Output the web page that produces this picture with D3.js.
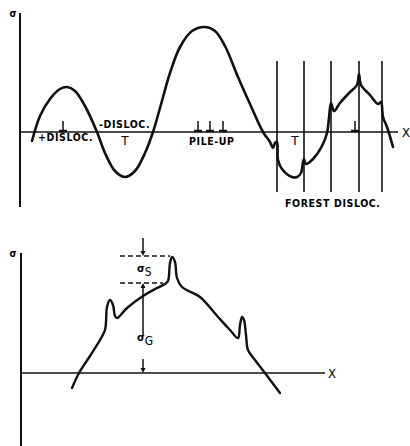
<!DOCTYPE html>
<html>
<head>
<meta charset="utf-8">
<script src="https://cdn.jsdelivr.net/npm/d3@7"></script>
<style>
  body { margin: 0; background: #fff; }
  svg { display: block; }
  text { -webkit-font-smoothing: antialiased; }
  .lbl { font-family: "Liberation Sans Narrow", "DejaVu Sans Condensed", sans-serif; font-weight: bold; fill: #000; }
</style>
</head>
<body>
<div id="fig"></div>
<script>
// Stress sketches: sigma(x) around dislocations (top) and sigma_G + sigma_S (bottom)

// ---- top panel data (x = distance, y = stress, arbitrary units) ----
const topCurveX = [1.2, 2.0, 3.0, 4.0, 4.7, 5.5, 6.5, 7.7, 8.5, 9.5, 10.5, 11.5, 12.5, 13.3, 14.0, 15.0, 16.0, 17.2, 18.5, 19.5,
    20.5, 21.8, 23.0, 24.3, 25.0, 25.3, 25.5, 25.7, 25.8, 26.2, 27.2, 27.7, 28.1, 28.3, 28.4, 28.6, 29.3, 30.2, 30.7, 30.9,
    31.1, 31.4, 32.0, 33.0, 33.7, 33.9, 34.1, 35.0, 35.8, 36.1, 36.3, 36.7, 37.3];
const topCurveY = [-1.8, 3.2, 6.6, 8.6, 9.0, 8.2, 5.2, 0, -4.2, -7.8, -9.0, -7.8, -4.2, 0, 4.8, 11.8, 17.0, 20.2, 21.0, 20.2,
    17.2, 11.0, 5.6, 0, -2.0, -3.2, -2.2, -2.0, -5.6, -7.4, -9.0, -9.0, -8.2, -6.0, -5.4, -6.4, -5.4, -2.8, -0.2, 2.8,
    5.8, 4.2, 5.8, 8.0, 9.4, 11.6, 9.4, 7.4, 5.6, 6.0, 3.0, 1.0, -3.0];
const forestX = [25.7, 28.4, 31.1, 33.9, 36.2];
const forestRange = [-12.0, 14.2];
const posDislocX = [4.3, 17.8, 19.0, 20.3, 33.5];   // "⊥" symbols on the axis
const negDislocX = [10.5, 27.5];                     // "T" symbols under the axis
const topLabels = [
    { text: "+DISLOC.", x: 1.8, y: -1.8 },
    { text: "-DISLOC.", x: 7.9, y: 0.8 },
    { text: "PILE-UP", x: 16.9, y: -2.6 },
    { text: "FOREST DISLOC.", x: 26.5, y: -15.0 }
];

// ---- bottom panel data ----
const botCurveX = [5.1, 5.8, 6.9, 7.9, 8.4, 8.5, 8.6, 8.9, 9.2, 9.4, 9.6, 10.6, 12.2, 13.4, 14.4, 14.7, 14.9, 15.1, 15.4, 15.6,
    16.1, 17.9, 19.7, 20.9, 21.7, 21.9, 22.1, 22.3, 22.5, 22.7, 23.4, 24.4, 25.9];
const botCurveY = [-3.0, 0, 3.4, 6.6, 8.6, 10.2, 13.2, 14.6, 13.6, 11.4, 11.0, 13.0, 15.4, 16.8, 17.8, 18.4, 22.0, 23.2, 22.2, 19.0,
    17.2, 15.2, 11.2, 8.6, 7.0, 9.6, 11.2, 10.6, 7.6, 4.6, 2.6, 0, -4.0];
const sigmaS = [18.0, 23.4];   // lower and upper dashed levels
const dashStartX = 9.9;
const dashEndX = [14.2, 14.9];
const arrowX = 12.2;

const W = 410, H = 446;
const svg = d3.select("#fig").append("svg").attr("width", W).attr("height", H);

const xTop = d3.scaleLinear().domain([0, 38]).range([20, 400]);
const yTop = d3.scaleLinear().domain([-15, 24]).range([207, 12]);
const xBot = d3.scaleLinear().domain([0, 38]).range([21, 401]);
const yBot = d3.scaleLinear().domain([-15, 24]).range([448, 253]);

const line = (xs, ys) => d3.line()
    .x(d => xs(d[0]))
    .y(d => ys(d[1]))
    .curve(d3.curveCatmullRom.alpha(0.5));

// ===================== top panel =====================
const gTop = svg.append("g");

// axes
gTop.append("line")
    .attr("x1", xTop(0)).attr("x2", xTop(0))
    .attr("y1", yTop(23.8)).attr("y2", yTop(-15))
    .attr("stroke", "#111").attr("stroke-width", 2);
gTop.append("line")
    .attr("x1", xTop(0)).attr("x2", xTop(37.8))
    .attr("y1", yTop(0)).attr("y2", yTop(0))
    .attr("stroke", "#111").attr("stroke-width", 1.6);
gTop.append("text").attr("class", "lbl")
    .attr("x", xTop(0) - 7).attr("y", yTop(23.8) + 4)
    .attr("text-anchor", "middle").style("font-size", "10px").text("σ");
gTop.append("text").attr("class", "lbl")
    .attr("x", xTop(37.8) + 8).attr("y", yTop(0) + 4.5)
    .attr("text-anchor", "middle").style("font-size", "13px").style("font-weight", "normal").text("X");

// forest dislocations
gTop.append("g")
    .selectAll("line")
    .data(forestX)
    .join("line")
    .attr("x1", d => xTop(d)).attr("x2", d => xTop(d))
    .attr("y1", yTop(forestRange[1])).attr("y2", yTop(forestRange[0]))
    .attr("stroke", "#111").attr("stroke-width", 1.6);

// dislocation symbols
const perp = gTop.append("g").selectAll("g").data(posDislocX).join("g")
    .attr("transform", d => `translate(${xTop(d)},${yTop(0)})`);
perp.append("line").attr("x1", 0).attr("x2", 0).attr("y1", 0).attr("y2", -11)
    .attr("stroke", "#111").attr("stroke-width", 1.5);
perp.append("line").attr("x1", -4).attr("x2", 4).attr("y1", -1).attr("y2", -1)
    .attr("stroke", "#111").attr("stroke-width", 2.5);

gTop.append("g").selectAll("text").data(negDislocX).join("text")
    .attr("x", d => xTop(d)).attr("y", yTop(0) + 13)
    .attr("text-anchor", "middle")
    .style("font-family", "DejaVu Sans, sans-serif").style("font-size", "12px").style("fill", "#000")
    .text("T");

// labels
gTop.append("g").selectAll("text").data(topLabels).join("text")
    .attr("class", "lbl")
    .attr("x", d => xTop(d.x)).attr("y", d => yTop(d.y))
    .style("font-size", "10.5px").style("letter-spacing", "0.6px")
    .text(d => d.text);

// curve
gTop.append("path")
    .datum(topCurveX.map((x, i) => [x, topCurveY[i]]))
    .attr("d", line(xTop, yTop))
    .attr("fill", "none").attr("stroke", "#111").attr("stroke-width", 2.6)
    .attr("stroke-linejoin", "round").attr("stroke-linecap", "round");

// ===================== bottom panel =====================
const gBot = svg.append("g");

gBot.append("line")
    .attr("x1", xBot(0)).attr("x2", xBot(0))
    .attr("y1", yBot(24)).attr("y2", yBot(-15))
    .attr("stroke", "#111").attr("stroke-width", 2);
gBot.append("line")
    .attr("x1", xBot(0)).attr("x2", xBot(30.4))
    .attr("y1", yBot(0)).attr("y2", yBot(0))
    .attr("stroke", "#111").attr("stroke-width", 1.6);
gBot.append("text").attr("class", "lbl")
    .attr("x", xBot(0) - 8).attr("y", yBot(24) + 4)
    .attr("text-anchor", "middle").style("font-size", "10px").text("σ");
gBot.append("text").attr("class", "lbl")
    .attr("x", xBot(30.4) + 7).attr("y", yBot(0) + 4.5)
    .attr("text-anchor", "middle").style("font-size", "13px").style("font-weight", "normal").text("X");

// dashed levels
gBot.append("g").selectAll("line").data(sigmaS).join("line")
    .attr("x1", xBot(dashStartX)).attr("x2", (d, i) => xBot(dashEndX[i]))
    .attr("y1", d => yBot(d)).attr("y2", d => yBot(d))
    .attr("stroke", "#111").attr("stroke-width", 1.5).attr("stroke-dasharray", "5,3");

// arrows
const ax = xBot(arrowX);
gBot.append("line")
    .attr("x1", ax).attr("x2", ax).attr("y1", yBot(27)).attr("y2", yBot(sigmaS[1]) - 3)
    .attr("stroke", "#111").attr("stroke-width", 1.5);
gBot.append("line")
    .attr("x1", ax).attr("x2", ax).attr("y1", yBot(sigmaS[0]) + 3).attr("y2", yBot(7.5))
    .attr("stroke", "#111").attr("stroke-width", 1.5);
gBot.append("line")
    .attr("x1", ax).attr("x2", ax).attr("y1", yBot(2.8)).attr("y2", yBot(0) - 3)
    .attr("stroke", "#111").attr("stroke-width", 1.5);
const heads = [
    { y: sigmaS[1], dir: 1 },
    { y: sigmaS[0], dir: -1 },
    { y: 0, dir: 1 }
];
gBot.append("g").selectAll("path").data(heads).join("path")
    .attr("d", d => {
        const y = yBot(d.y);
        return `M${ax},${y} L${ax - 2.5},${y - 5 * d.dir} L${ax + 2.5},${y - 5 * d.dir} Z`;
    })
    .attr("fill", "#111");

// sigma labels
const sLbl = gBot.append("text").attr("class", "lbl")
    .attr("x", ax - 6).attr("y", yBot((sigmaS[0] + sigmaS[1]) / 2) + 2)
    .style("font-size", "11px");
sLbl.append("tspan").text("σ");
sLbl.append("tspan").attr("dy", 4).style("font-size", "12px").style("font-weight", "normal").text("S");

const gLbl = gBot.append("text").attr("class", "lbl")
    .attr("x", ax - 6).attr("y", yBot(7.5) + 5)
    .style("font-size", "11px");
gLbl.append("tspan").text("σ");
gLbl.append("tspan").attr("dy", 4).style("font-size", "12px").style("font-weight", "normal").text("G");

// curve
gBot.append("path")
    .datum(botCurveX.map((x, i) => [x, botCurveY[i]]))
    .attr("d", line(xBot, yBot))
    .attr("fill", "none").attr("stroke", "#111").attr("stroke-width", 2.4)
    .attr("stroke-linejoin", "round").attr("stroke-linecap", "round");
</script>
</body>
</html>
